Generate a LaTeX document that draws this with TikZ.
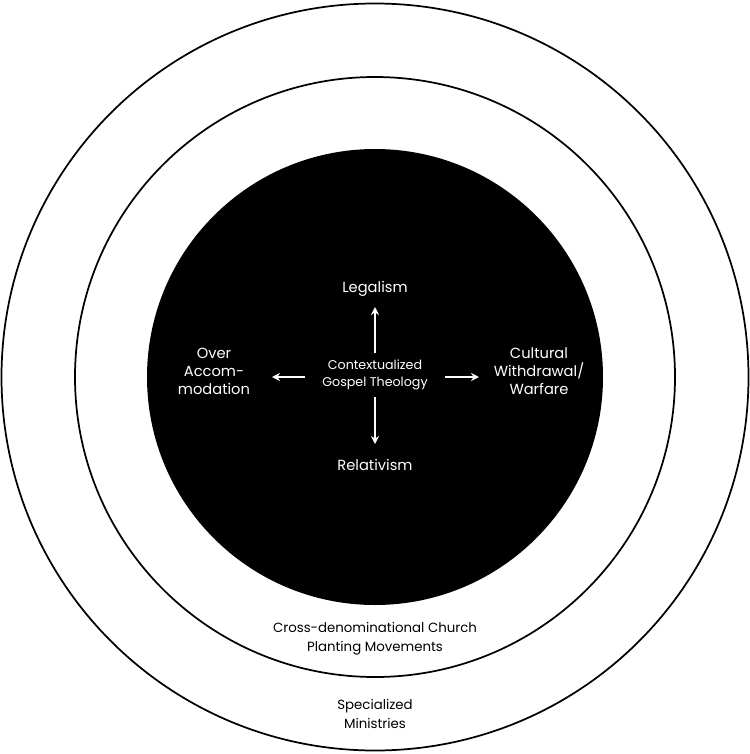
\documentclass[tikz,border=0pt]{standalone}
\usepackage{fontspec}
\setmainfont{Poppins}
\usetikzlibrary{arrows.meta}
\begin{document}
\begin{tikzpicture}[x=0.75pt,y=-0.75pt,
  lbl/.style={text=white,align=center,font=\fontsize{11}{13.5}\selectfont},
  small/.style={text=white,align=center,font=\fontsize{9.5}{12.5}\selectfont},
  blk/.style={text=black,align=center,font=\fontsize{10}{14}\selectfont},
  arr/.style={white,line width=1.1pt,-{Stealth[length=6pt,width=6pt]}}]
\useasboundingbox (0,0) rectangle (750,754);
\draw[line width=1.3pt] (375,377) circle[radius=373.5];
\draw[line width=1.3pt] (375,377) circle[radius=300];
\fill[black] (375,377) circle[radius=228];
\node[small] (c) at (375,375) {Contextualized\\Gospel Theology};
\node[lbl] (l) at (375,289) {Legalism};
\node[lbl] (r) at (375,465) {Relativism};
\node[lbl] (o) at (214,371) {Over\\Accom-\\modation};
\node[lbl] (w) at (539,371) {Cultural\\Withdrawal/\\Warfare};
\coordinate (cu) at (375,353); \coordinate (cd) at (375,397);
\coordinate (cl) at (305,377); \coordinate (cr) at (445,377);
\draw[arr] (cu) -- (375,307);
\draw[arr] (cd) -- (375,444);
\draw[arr] (cl) -- (272,377);
\draw[arr] (cr) -- (479,377);
\node[blk] (m) at (375,639) {Cross-denominational Church\\Planting Movements};
\node[blk] (s) at (375,714) {Specialized\\Ministries};
\end{tikzpicture}
\end{document}
